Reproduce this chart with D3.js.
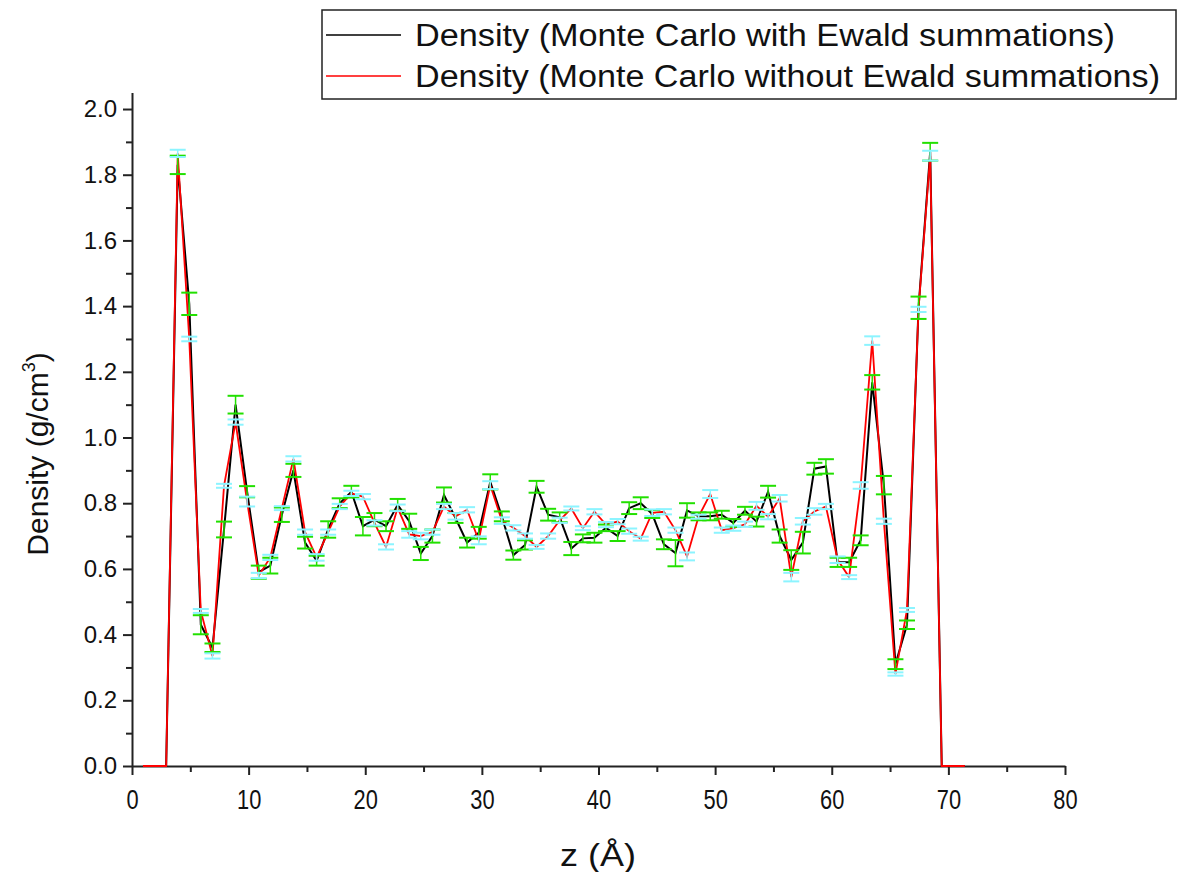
<!DOCTYPE html>
<html>
<head>
<meta charset="utf-8">
<script src="https://cdnjs.cloudflare.com/ajax/libs/d3/7.8.5/d3.min.js"></script>
<style>
body { margin: 0; background: #fff; }
svg text { font-family: "Liberation Sans", Arial, sans-serif; fill: #111; }
</style>
</head>
<body>
<div id="chart"></div>
<script>
// bin centres along z (Å)
var zValues = [0.94, 1.93, 2.93, 3.92, 4.91, 5.90, 6.90, 7.89, 8.88, 9.87,
    10.87, 11.86, 12.85, 13.84, 14.84, 15.83, 16.82, 17.81, 18.81, 19.80,
    20.79, 21.78, 22.78, 23.77, 24.76, 25.76, 26.75, 27.74, 28.73, 29.73,
    30.72, 31.71, 32.70, 33.70, 34.69, 35.68, 36.67, 37.67, 38.66, 39.65,
    40.64, 41.64, 42.63, 43.62, 44.61, 45.61, 46.60, 47.59, 48.58, 49.58,
    50.57, 51.56, 52.56, 53.55, 54.54, 55.53, 56.53, 57.52, 58.51, 59.50,
    60.50, 61.49, 62.48, 63.47, 64.47, 65.46, 66.45, 67.44, 68.44, 69.43,
    70.42, 71.41];

// Monte Carlo with Ewald summations (black line, green error bars)
var densityEwald = [0, 0, 0, 1.83, 1.407, 0.43, 0.36, 0.72, 1.10, 0.835,
    0.59, 0.61, 0.765, 0.90, 0.68, 0.625, 0.72, 0.80, 0.835, 0.73,
    0.75, 0.73, 0.795, 0.745, 0.647, 0.70, 0.825, 0.755, 0.68, 0.71,
    0.865, 0.76, 0.642, 0.673, 0.85, 0.765, 0.757, 0.662, 0.693, 0.695,
    0.725, 0.70, 0.785, 0.80, 0.767, 0.675, 0.648, 0.778, 0.76, 0.76,
    0.765, 0.74, 0.777, 0.744, 0.835, 0.70, 0.627, 0.68, 0.905, 0.912,
    0.62, 0.62, 0.687, 1.168, 0.855, 0.31, 0.43, 1.395, 1.87, 0,
    0, 0];
var errEwald = [0, 0, 0, 0.028, 0.034, 0.029, 0.013, 0.024, 0.027, 0.017,
    0.02, 0.024, 0.022, 0.02, 0.018, 0.015, 0.025, 0.015, 0.018, 0.028,
    0.02, 0.015, 0.018, 0.023, 0.02, 0.02, 0.023, 0.015, 0.015, 0.018,
    0.023, 0.015, 0.014, 0.014, 0.018, 0.018, 0.015, 0.02, 0.012, 0.015,
    0.01, 0.015, 0.018, 0.018, 0.012, 0.015, 0.04, 0.022, 0.012, 0.012,
    0.012, 0.012, 0.012, 0.015, 0.018, 0.02, 0.03, 0.033, 0.018, 0.022,
    0.014, 0.014, 0.015, 0.022, 0.028, 0.015, 0.013, 0.034, 0.027, 0,
    0, 0];

// Monte Carlo without Ewald summations (red line, cyan error bars)
var densityNoEwald = [0, 0, 0, 1.865, 1.30, 0.472, 0.335, 0.853, 1.047, 0.805,
    0.58, 0.635, 0.785, 0.935, 0.712, 0.635, 0.712, 0.79, 0.83, 0.82,
    0.74, 0.667, 0.786, 0.705, 0.70, 0.712, 0.79, 0.76, 0.78, 0.687,
    0.855, 0.747, 0.725, 0.70, 0.667, 0.70, 0.748, 0.784, 0.724, 0.774,
    0.735, 0.744, 0.715, 0.692, 0.771, 0.774, 0.718, 0.638, 0.759, 0.828,
    0.718, 0.724, 0.736, 0.792, 0.759, 0.815, 0.575, 0.745, 0.775, 0.79,
    0.628, 0.575, 0.854, 1.295, 0.745, 0.28, 0.475, 1.39, 1.858, 0,
    0, 0];
var errNoEwald = [0, 0, 0, 0.011, 0.007, 0.006, 0.008, 0.006, 0.008, 0.015,
    0.008, 0.008, 0.006, 0.008, 0.008, 0.01, 0.008, 0.008, 0.008, 0.008,
    0.008, 0.008, 0.01, 0.01, 0.01, 0.008, 0.008, 0.01, 0.008, 0.012,
    0.012, 0.01, 0.008, 0.008, 0.006, 0.008, 0.008, 0.006, 0.006, 0.008,
    0.008, 0.008, 0.008, 0.006, 0.01, 0.008, 0.008, 0.012, 0.006, 0.012,
    0.008, 0.008, 0.008, 0.012, 0.008, 0.01, 0.013, 0.01, 0.01, 0.008,
    0.01, 0.006, 0.01, 0.013, 0.008, 0.005, 0.006, 0.008, 0.015, 0,
    0, 0];

var legendLabels = ["Density (Monte Carlo with Ewald summations)",
    "Density (Monte Carlo without Ewald summations)"];
var xTicks = [0, 10, 20, 30, 40, 50, 60, 70, 80];
var xMinorTicks = [5, 15, 25, 35, 45, 55, 65, 75];
var yTicks = [0, 0.2, 0.4, 0.6, 0.8, 1.0, 1.2, 1.4, 1.6, 1.8, 2.0];
var yMinorTicks = [0.1, 0.3, 0.5, 0.7, 0.9, 1.1, 1.3, 1.5, 1.7, 1.9];

function drawChart() {
    var width = 1180, height = 872;
    var svg = d3.select("#chart").append("svg")
        .attr("width", width)
        .attr("height", height);

    var xScale = d3.scaleLinear().domain([0, 80]).range([132, 1065]);
    var yScale = d3.scaleLinear().domain([0, 2.05]).range([766, 92.6]);

    // minor ticks first
    svg.append("g")
        .attr("transform", "translate(0,766)")
        .call(d3.axisBottom(xScale).tickValues(xMinorTicks).tickSize(6).tickFormat(""))
        .call(function (g) { g.select(".domain").remove(); });
    svg.append("g")
        .attr("transform", "translate(132,0)")
        .call(d3.axisLeft(yScale).tickValues(yMinorTicks).tickSize(6).tickFormat(""))
        .call(function (g) { g.select(".domain").remove(); });

    var xAxis = svg.append("g")
        .attr("transform", "translate(0,766)")
        .call(d3.axisBottom(xScale).tickValues(xTicks).tickSize(9).tickSizeOuter(0).tickPadding(14));
    xAxis.selectAll("text")
        .attr("font-size", 28)
        .attr("transform", "scale(0.78,1)");

    var yAxis = svg.append("g")
        .attr("transform", "translate(132,0)")
        .call(d3.axisLeft(yScale).tickValues(yTicks).tickSize(9).tickSizeOuter(0)
            .tickPadding(6).tickFormat(d3.format(".1f")));
    yAxis.selectAll("text").attr("font-size", 24);

    svg.selectAll(".domain").attr("stroke", "#222").attr("stroke-width", 2);
    svg.selectAll(".tick line").attr("stroke", "#222").attr("stroke-width", 2);

    var line = d3.line()
        .x(function (d) { return xScale(d[0]); })
        .y(function (d) { return yScale(d[1]); });

    var blackData = zValues.map(function (z, i) { return [z, densityEwald[i], errEwald[i]]; });
    var redData = zValues.map(function (z, i) { return [z, densityNoEwald[i], errNoEwald[i]]; });

    svg.append("path")
        .datum(blackData)
        .attr("d", line)
        .attr("fill", "none")
        .attr("stroke", "#000")
        .attr("stroke-width", 2);

    svg.append("path")
        .datum(redData)
        .attr("d", line)
        .attr("fill", "none")
        .attr("stroke", "#ff0000")
        .attr("stroke-width", 1.8);

    function errorBars(data, color) {
        var g = svg.append("g")
            .attr("stroke", color)
            .attr("stroke-width", 2)
            .attr("fill", "none");
        var bars = g.selectAll("g")
            .data(data.filter(function (d) { return d[2] > 0; }))
            .enter().append("g");
        bars.append("line")
            .attr("x1", function (d) { return xScale(d[0]); })
            .attr("x2", function (d) { return xScale(d[0]); })
            .attr("y1", function (d) { return yScale(d[1] - d[2]); })
            .attr("y2", function (d) { return yScale(d[1] + d[2]); })
            .attr("stroke-width", 1.5);
        [-1, 1].forEach(function (s) {
            bars.append("line")
                .attr("x1", function (d) { return xScale(d[0]) - 8; })
                .attr("x2", function (d) { return xScale(d[0]) + 8; })
                .attr("y1", function (d) { return yScale(d[1] + s * d[2]); })
                .attr("y2", function (d) { return yScale(d[1] + s * d[2]); });
        });
    }
    errorBars(blackData, "#22e000");
    errorBars(redData, "#8cf4ff");

    // legend
    var legend = svg.append("g");
    legend.append("rect")
        .attr("x", 322).attr("y", 10)
        .attr("width", 854).attr("height", 89)
        .attr("fill", "#fff")
        .attr("stroke", "#222")
        .attr("stroke-width", 1.5);
    var legendColors = ["#000", "#ff0000"];
    legendLabels.forEach(function (label, i) {
        var cy = 35 + i * 41;
        legend.append("line")
            .attr("x1", 326).attr("x2", 401)
            .attr("y1", cy).attr("y2", cy)
            .attr("stroke", legendColors[i])
            .attr("stroke-width", 1.5);
        legend.append("text")
            .attr("x", 415).attr("y", cy + 11)
            .attr("font-size", 31)
            .attr("textLength", i === 0 ? 700 : 745)
            .attr("lengthAdjust", "spacingAndGlyphs")
            .text(label);
    });

    // axis titles
    svg.append("text")
        .attr("x", 598).attr("y", 866)
        .attr("text-anchor", "middle")
        .attr("font-size", 32)
        .attr("textLength", 76)
        .attr("lengthAdjust", "spacingAndGlyphs")
        .text("z (Å)");

    var yTitle = svg.append("text")
        .attr("transform", "translate(48,454) rotate(-90)")
        .attr("text-anchor", "middle")
        .attr("font-size", 30);
    yTitle.append("tspan").text("Density (g/cm");
    yTitle.append("tspan").attr("font-size", 18).attr("dy", -13).text("3");
    yTitle.append("tspan").attr("dy", 13).text(")");
}

drawChart();
</script>
</body>
</html>
